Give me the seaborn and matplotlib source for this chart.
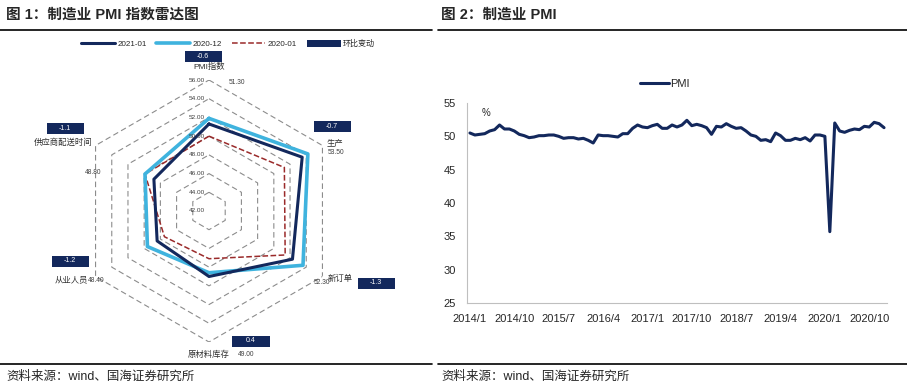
import numpy as np
import pandas as pd
import seaborn as sns
import matplotlib.pyplot as plt
from matplotlib.lines import Line2D
from matplotlib.patches import Rectangle, Patch

# radar data
radar_cats = ['PMI指数', '生产', '新订单', '原材料库存', '从业人员', '供应商配送时间']
pmi_2021_01 = [51.3, 53.5, 52.3, 49.0, 48.4, 48.8]
pmi_2020_12 = [51.9, 54.2, 53.6, 48.6, 49.6, 49.9]
pmi_2020_01 = [50.0, 51.3, 51.4, 47.1, 47.5, 49.9]
mom_change = [-0.6, -0.7, -1.3, 0.4, -1.2, -1.1]
ring_levels = [44, 46, 48, 50, 52, 54, 56]

# monthly PMI 2014/1 - 2021/1
pmi_monthly = [
    50.5, 50.2, 50.3, 50.4, 50.8, 51.0, 51.7, 51.1, 51.1, 50.8, 50.3, 50.1,
    49.8, 49.9, 50.1, 50.1, 50.2, 50.2, 50.0, 49.7, 49.8, 49.8, 49.6, 49.7,
    49.4, 49.0, 50.2, 50.1, 50.1, 50.0, 49.9, 50.4, 50.4, 51.2, 51.7, 51.4,
    51.3, 51.6, 51.8, 51.2, 51.2, 51.7, 51.4, 51.7, 52.4, 51.6, 51.8, 51.6,
    51.3, 50.3, 51.5, 51.4, 51.9, 51.5, 51.2, 51.3, 50.8, 50.2, 50.0, 49.4,
    49.5, 49.2, 50.5, 50.1, 49.4, 49.4, 49.7, 49.5, 49.8, 49.3, 50.2, 50.2,
    50.0, 35.7, 52.0, 50.8, 50.6, 50.9, 51.1, 51.0, 51.5, 51.4, 52.1, 51.9,
    51.3,
]
months = pd.date_range('2014-01-01', periods=len(pmi_monthly), freq='MS')
month_labels = [f'{d.year}/{d.month}' for d in months]

sns.set_style('white')
plt.rcParams['font.family'] = ['Liberation Sans', 'Noto Sans CJK SC']

NAVY = '#13285c'
LIGHT = '#3fb3de'
DARKRED = '#9a2a2a'
W, H = 907, 390


def px(x, y):
    return x / W, 1 - y / H


fig = plt.figure(figsize=(W / 100, H / 100), dpi=100)

# ---- titles, rules, footers
for x0, t in [(6, '图 1：制造业 PMI 指数雷达图'), (441, '图 2：制造业 PMI')]:
    fig.text(*px(x0, 15), t, fontsize=10.5, fontweight='bold', va='center')
    fig.text(*px(x0, 377), '资料来源：wind、国海证券研究所', fontsize=9, va='center')
for (a, b) in [(0, 432), (438, 907)]:
    fig.add_artist(Line2D([a / W, b / W], [1 - 30 / H] * 2, color='black', lw=1.2))
    fig.add_artist(Line2D([a / W, b / W], [1 - 364 / H] * 2, color='black', lw=1.2))

# ---- radar chart
cx, cy, R = 209, 211, 131
ax1 = fig.add_axes([(cx - R) / W, (H - cy - R) / H, 2 * R / W, 2 * R / H], projection='polar')
ax1.set_theta_offset(np.pi / 2)
ax1.set_theta_direction(-1)
ax1.set_ylim(42, 56)
ax1.grid(False)
ax1.set_xticks([])
ax1.set_yticks([])
ax1.spines['polar'].set_visible(False)
ax1.set_facecolor('none')

theta = np.linspace(0, 2 * np.pi, len(radar_cats), endpoint=False)
theta_closed = np.append(theta, theta[0])

for lv in ring_levels:
    ax1.plot(theta_closed, [lv] * len(theta_closed), color='#8c8c8c', lw=0.8, dashes=(5, 3))
for lv in [42] + ring_levels:
    ax1.annotate(f'{lv:.2f}', (0, lv), xytext=(-3, 0), textcoords='offset points',
                 ha='right', va='center', fontsize=4.6, color='#404040')

series = [
    (pmi_2020_01, '2020-01', DARKRED, 1.1, '--'),
    (pmi_2020_12, '2020-12', LIGHT, 2.6, '-'),
    (pmi_2021_01, '2021-01', NAVY, 2.2, '-'),
]
for vals, name, col, lw, ls in series:
    df = pd.DataFrame({'theta': theta_closed, 'r': vals + vals[:1]})
    sns.lineplot(data=df, x='theta', y='r', ax=ax1, sort=False, color=col, lw=lw,
                 linestyle=ls, estimator=None)
ax1.set_xlabel('')
ax1.set_ylabel('')

# category labels, values and change boxes (pixel layout)
cat_pos = [(209, 67, 'center'), (327, 143, 'left'), (328, 279, 'left'),
           (230, 355, 'right'), (88, 280, 'right'), (92, 143, 'right')]
val_pos = [(229, 83), (328, 153), (314, 283), (238, 355), (88, 280), (85, 172)]
box_pos = [(203, 56), (332, 126), (376, 283), (251, 341), (70, 261), (65, 128)]
for i, cat in enumerate(radar_cats):
    x, y, ha = cat_pos[i]
    fig.text(*px(x, y), cat, fontsize=6, ha=ha, va='center', color='#303030')
    fig.text(*px(*val_pos[i]), f'{pmi_2021_01[i]:.2f}', fontsize=4.8, ha='left',
             va='center', color='#404040')
    bx, by = box_pos[i]
    fig.add_artist(Rectangle(px(bx - 18.5, by + 5.5), 37 / W, 11 / H,
                             facecolor=NAVY, edgecolor='none'))
    fig.text(*px(bx, by), f'{mom_change[i]:.1f}', fontsize=5, ha='center',
             va='center', color='white')

handles = [Line2D([], [], color=NAVY, lw=2.2), Line2D([], [], color=LIGHT, lw=2.6),
           Line2D([], [], color=DARKRED, lw=1.1, ls='--'),
           Patch(facecolor=NAVY, edgecolor='none')]
fig.legend(handles, ['2021-01', '2020-12', '2020-01', '环比变动'], loc='center',
           bbox_to_anchor=px(228, 44), ncol=4, frameon=False, fontsize=5.8,
           handlelength=4.2, handleheight=0.9, columnspacing=1.2, handletextpad=0.3)

# ---- PMI line chart
ax2 = fig.add_axes([467 / W, (H - 303) / H, 420 / W, 200 / H])
df2 = pd.DataFrame({'i': np.arange(len(pmi_monthly)), 'PMI': pmi_monthly})
sns.lineplot(data=df2, x='i', y='PMI', ax=ax2, color=NAVY, lw=2.2, label='PMI')
ax2.set_ylim(25, 55)
ax2.set_yticks(range(25, 56, 5))
ax2.set_xlim(-0.6, len(pmi_monthly) - 0.4)
tick_idx = list(range(0, len(pmi_monthly), 9))
ax2.set_xticks(tick_idx)
ax2.set_xticklabels([month_labels[i] for i in tick_idx])
ax2.set_xticks([i - 0.5 for i in tick_idx], minor=True)
ax2.tick_params(axis='x', which='major', length=0, pad=8, labelsize=8)
ax2.tick_params(axis='x', which='minor', length=3, color='#bfbfbf', direction='out')
ax2.tick_params(axis='y', length=0, pad=8, labelsize=8)
ax2.set_xlabel('')
ax2.set_ylabel('')
for s in ['top', 'right']:
    ax2.spines[s].set_visible(False)
for s in ['left', 'bottom']:
    ax2.spines[s].set_color('#bfbfbf')
    ax2.spines[s].set_linewidth(0.8)
ax2.text(0.035, 0.95, '%', transform=ax2.transAxes, fontsize=7, va='center')
ax2.legend(loc='center', bbox_to_anchor=(0.47, 1.095), frameon=False, fontsize=8,
           handlelength=2.6, handletextpad=0.1)

fig.savefig('out.png', dpi=100)
